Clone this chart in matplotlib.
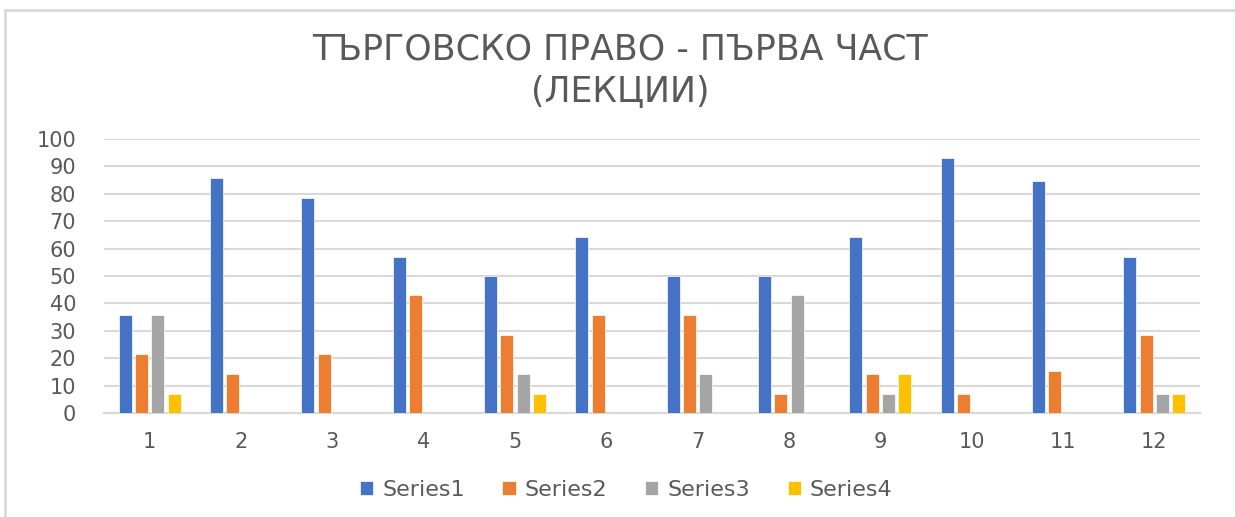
import matplotlib.pyplot as plt
import numpy as np
from matplotlib.lines import Line2D

categories = ['1', '2', '3', '4', '5', '6', '7', '8', '9', '10', '11', '12']
series1 = [35.7, 85.7, 78.6, 57.1, 50.0, 64.3, 50.0, 50.0, 64.3, 92.9, 84.6, 57.1]
series2 = [21.4, 14.3, 21.4, 42.9, 28.6, 35.7, 35.7, 7.1, 14.3, 7.1, 15.4, 28.6]
series3 = [35.7, 0, 0, 0, 14.3, 0, 14.3, 42.9, 7.1, 0, 0, 7.1]
series4 = [7.1, 0, 0, 0, 7.1, 0, 0, 0, 14.3, 0, 0, 7.1]
names = ['Series1', 'Series2', 'Series3', 'Series4']
colors = ['#4472c4', '#ed7d31', '#a5a5a5', '#ffc000']
txt = '#595959'

fig = plt.figure(figsize=(12.35, 5.17), dpi=100)
# chart frame, only top and left edges are visible in the crop
fy = 1 - 10 / 517
fx = 5 / 1235
fig.lines.append(Line2D([fx, 1], [fy, fy], transform=fig.transFigure, color='#d9d9d9', lw=2))
fig.lines.append(Line2D([fx, fx], [0, fy], transform=fig.transFigure, color='#d9d9d9', lw=2))

ax = fig.add_axes([104 / 1235, 104 / 517, 1096 / 1235, 274 / 517])
x = np.arange(len(categories))
w = 0.145
step = 0.179
for i, (vals, col) in enumerate(zip([series1, series2, series3, series4], colors)):
    ax.bar(x + (i - 1.5) * step, vals, width=w, color=col, label=names[i],
           edgecolor='white', linewidth=0.5, zorder=3)

ax.set_ylim(0, 100)
ax.set_xlim(-0.5, len(categories) - 0.5)
ax.set_yticks(range(0, 101, 10))
ax.set_xticks(x)
ax.set_xticklabels(categories)
ax.grid(axis='y', color='#d9d9d9', linewidth=1.5, zorder=0)
for s in ['top', 'right', 'left']:
    ax.spines[s].set_visible(False)
ax.spines['bottom'].set_color('#d9d9d9')
ax.spines['bottom'].set_linewidth(1.5)
ax.tick_params(length=0, labelsize=15, colors=txt)
ax.tick_params(axis='y', pad=20)
ax.tick_params(axis='x', pad=14)

fig.text(0.502, 1 - 50 / 517, 'ТЪРГОВСКО ПРАВО - ПЪРВА ЧАСТ', ha='center', va='center',
         fontsize=25, color=txt, family='DejaVu Sans')
fig.text(0.502, 1 - 92 / 517, '(ЛЕКЦИИ)', ha='center', va='center',
         fontsize=25, color=txt, family='DejaVu Sans')

fig.legend(loc='center', bbox_to_anchor=(0.507, 1 - 490 / 517), ncol=4, frameon=False,
           fontsize=16, handlelength=0.6, handleheight=0.6, columnspacing=1.7,
           handletextpad=0.4, labelcolor=txt)

fig.savefig('out.png', dpi=100, facecolor='white')
